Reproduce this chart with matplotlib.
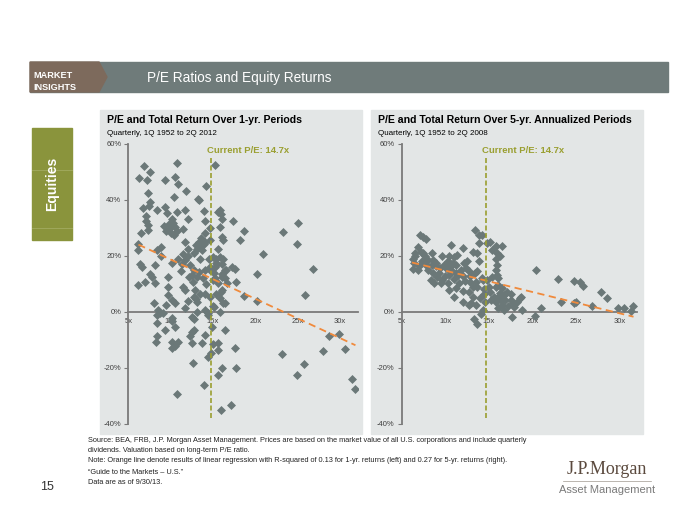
import matplotlib
matplotlib.use('Agg')
import matplotlib.pyplot as plt
from matplotlib.patches import Rectangle, Polygon
from matplotlib.lines import Line2D

# --- Dados ---

# P/E vs retorno de 1 ano (painel esquerdo)
pe_1yr = [6.8, 10.7, 15.2, 6.3, 7.2, 7.6, 9.3, 10.5, 10.9, 7.3, 10.4, 11.8, 13.2, 7.6, 7.5,
          6.7, 8.4, 7.1, 7.1, 7.3, 7.3, 6.5, 9.3, 9.6, 10.7, 10.1, 10.3, 10.5, 9.9, 9.5,
          10.8, 11.5, 12.1, 11.7, 13.9, 14.0, 14.1, 15.8, 15.6, 16.0, 15.8, 16.0, 16.2, 17.4, 18.6,
          18.2, 6.2, 6.2, 11.7, 12.1, 13.5, 13.7, 13.1, 13.9, 8.4, 8.9, 8.9, 6.4, 6.6, 8.2,
          7.6, 7.8, 6.2, 7.0, 8.2, 9.7, 9.7, 10.9, 11.3, 11.7, 12.3, 12.7, 12.5, 13.1, 13.3,
          14.1, 14.5, 15.0, 15.3, 15.8, 15.4, 16.0, 16.4, 17.2, 17.6, 16.0, 16.4, 15.6, 15.0, 14.6,
          11.7, 11.5, 12.9, 13.5, 12.7, 13.1, 14.6, 14.1, 15.3, 16.0, 15.8, 16.2, 9.7, 10.1, 9.5,
          10.5, 8.0, 8.5, 8.7, 11.7, 13.1, 14.1,
          14.2, 13.3, 15.9, 25.0, 23.3, 24.9, 20.9, 26.8, 20.2, 15.6, 16.5, 17.7, 18.7, 20.2, 25.9,
          14.6, 14.6, 13.5, 14.6, 15.2, 16.0, 16.6, 15.9, 16.4, 15.0, 14.4,
          8.4, 9.1, 10.1, 10.1, 10.5, 8.4, 9.3, 8.4, 8.3, 10.1, 10.5, 10.1, 10.9, 12.5, 12.5,
          12.7, 12.3, 12.5, 12.7, 13.7, 14.1, 14.4, 15.1, 15.8, 14.9, 15.0, 15.6, 14.8, 14.4, 15.6,
          16.4, 17.6, 12.6, 16.0, 15.6, 17.7, 13.9, 10.8, 17.1, 15.9, 23.1, 24.9, 25.7, 28.0, 28.7,
          29.9, 30.6, 31.4, 31.8,
          9.8, 10.0, 10.4, 9.2, 13.3, 13.6, 14.0, 13.0, 12.8, 12.0, 11.5, 15.5, 15.2, 16.2, 15.1,
          12.2, 13.8, 11.2, 10.2, 12.6, 14.2, 13.0, 12.0]
ret_1yr = [52.1, 53.3, 52.4, 47.7, 47.0, 50.1, 47.0, 48.2, 45.8, 42.6, 41.1, 43.2, 40.3, 39.1, 37.9,
           37.1, 36.4, 34.4, 32.6, 31.0, 29.3, 28.1, 37.6, 35.2, 35.5, 33.2, 31.6, 30.4, 30.0, 29.0,
           29.0, 29.6, 33.2, 36.4, 35.9, 32.3, 28.1, 36.4, 35.5, 33.0, 30.4, 26.7, 25.5, 32.6, 29.0,
           25.5, 24.3, 21.9, 24.9, 22.5, 23.3, 21.9, 22.5, 24.3, 21.9, 23.1, 20.1, 17.2, 16.0, 16.6,
           13.6, 12.4, 9.5, 10.7, 10.1, 12.4, 8.9, 19.0, 17.2, 18.4, 16.6, 14.8, 13.0, 12.4, 14.2,
           14.8, 19.0, 19.6, 19.0, 19.6, 17.4, 17.2, 14.8, 16.0, 15.4, 13.6, 11.9, 10.1, 11.3, 14.8,
           7.7, 8.9, 7.7, 6.5, 5.3, 3.6, 5.3, 6.5, 6.5, 7.7, 4.8, 3.0, 5.9, 4.2, 2.4,
           3.0, 3.0, 0.6, -0.6, 1.2, 0.0, 0.6,
           45.0, 39.9, 35.0, 31.6, 28.4, 24.1, 20.5, 15.4, 13.4, 22.5, 14.8, 10.7, 5.6, 3.9, 5.9,
           30.0, 25.5, 19.0, 16.0, 11.9, 12.4, 10.1, 7.1, 3.0, 2.1, -0.6,
           -1.2, -0.6, -2.4, -3.2, -5.3, -4.1, -6.7, -8.6, -11.0, -11.0, -12.4, -13.0, -11.0, -11.2, -7.4,
           -6.5, -8.6, -1.8, -2.7, -11.2, -8.3, -1.2, 1.8, 0.0, -5.6, -11.5, -11.2, -14.6, -16.3, -13.8,
           -6.7, -13.0, -18.3, -20.3, -22.5, -20.1, -26.4, -29.6, -33.3, -35.3, -15.0, -22.5, -18.6, -14.2, -8.6,
           -8.0, -13.4, -23.9, -27.8,
           31.5, 28.0, 27.5, 30.8, 25.0, 26.5, 24.8, 24.0, 21.0, 20.0, 20.5, 17.0, 16.0, 18.8, 14.0,
           12.5, 12.0, 14.5, 17.5, 10.5, 10.0, 4.5, 4.0]

# P/E vs retorno anualizado de 5 anos (painel direito)
pe_5yr = [7.1, 7.5, 7.8, 6.9, 6.5, 6.6, 6.3, 6.4, 6.3, 6.9, 7.3, 7.5, 7.7, 8.0, 7.8,
          8.0, 8.5, 8.6, 8.5, 8.9, 8.6, 9.3, 8.4, 8.7, 9.7, 10.3, 10.5, 10.7, 11.0, 11.4,
          9.9, 10.1, 10.4, 10.7, 10.9, 10.8, 10.5, 10.0, 9.7, 9.5, 10.3, 11.0, 11.5, 11.8, 12.0,
          12.2, 12.4, 12.5, 12.7, 12.9, 12.0, 11.6, 11.2, 10.5, 11.0, 12.0, 12.7, 13.2, 13.4, 12.9,
          13.5, 13.7, 13.2, 12.7, 13.5, 13.4, 13.9, 14.2, 13.9, 13.2, 13.7, 13.9, 13.7, 14.2, 14.4,
          14.8, 15.2, 15.4, 15.8, 16.5, 15.9, 16.3, 15.8, 15.9, 15.8, 15.9, 15.4, 14.8, 15.0, 15.2,
          15.8, 16.1, 16.1, 16.5, 15.6, 15.9, 15.8, 16.2, 16.4, 16.7, 16.5, 16.1, 16.9, 17.1, 17.5,
          17.6, 17.9, 18.2, 18.6, 18.8, 18.7, 17.8, 17.7, 16.7, 14.3, 14.1, 13.3, 13.7, 14.5, 14.6,
          14.5, 20.4, 20.3, 21.0, 22.9, 23.3, 24.8, 25.5, 25.8, 24.8, 25.0, 26.8, 27.9, 28.6, 29.8,
          30.5, 31.3, 31.5,
          9.0, 9.4, 10.2, 10.6, 11.2, 9.1, 11.3, 12.3, 7.0, 7.2, 12.1, 13.0, 14.0, 17.2, 16.3, 15.3]
ret_5yr = [27.5, 26.7, 26.0, 23.3, 21.0, 20.0, 18.8, 17.4, 15.2, 15.0, 18.0, 21.0, 19.8, 18.6, 16.8,
           15.0, 21.0, 18.6, 16.8, 16.2, 13.8, 13.8, 11.4, 10.2, 19.8, 18.0, 19.8, 24.0, 19.5, 20.4,
           16.8, 15.6, 15.0, 16.2, 17.6, 14.4, 13.2, 12.6, 11.4, 10.2, 10.4, 11.6, 13.2, 15.0, 22.7,
           17.4, 15.6, 18.0, 14.4, 12.6, 12.6, 10.2, 8.4, 7.8, 5.4, 3.6, 7.2, 9.0, 13.8, 10.8,
           10.8, 9.0, 5.4, 2.4, 2.4, 29.3, 27.5, 27.5, 24.5, 21.5, 20.9, 18.0, 14.4, 12.0, 11.2,
           24.5, 25.1, 22.1, 23.6, 23.6, 21.0, 19.8, 18.8, 16.8, 15.0, 13.2, 12.3, 11.4, 9.0, 7.2,
           9.0, 9.6, 12.0, 8.4, 5.4, 4.8, 3.6, 5.4, 4.2, 6.0, 2.4, 1.2, 4.2, 7.2, 6.4,
           4.2, 1.8, 3.6, 4.8, 0.6, 5.1, 3.0, -2.0, 0.6, 0.6, -0.8, -2.7, -4.4, 6.3, 3.6,
           8.0, 15.0, -1.5, 1.2, 11.6, 3.6, 11.0, 10.8, 9.2, 3.0, 3.6, 2.1, 7.2, 4.8, 1.2,
           1.5, 0.4, 2.1,
           17.5, 15.8, 16.5, 17.0, 16.8, 12.5, 14.0, 11.0, 16.5, 21.5, 7.5, 3.0, 5.0, 2.0, 6.8, 4.2]

# Retas de regressão (extremos)
trend_1yr_x = [6.2, 31.8]
trend_1yr_y = [24.0, -12.0]
trend_5yr_x = [6.2, 31.6]
trend_5yr_y = [17.6, -1.8]

CURRENT_PE = 14.7
x_ticks = [5, 10, 15, 20, 25, 30]
y_ticks = [-40, -20, 0, 20, 40, 60]

titles = ['P/E and Total Return Over 1-yr. Periods', 'P/E and Total Return Over 5-yr. Annualized Periods']
subtitles = ['Quarterly, 1Q 1952 to 2Q 2012', 'Quarterly, 1Q 1952 to 2Q 2008']

notes = [
    'Source: BEA, FRB, J.P. Morgan Asset Management. Prices are based on the market value of all U.S. corporations and include quarterly',
    'dividends. Valuation based on long-term P/E ratio.',
    'Note: Orange line denote results of linear regression with R-squared of 0.13 for 1-yr. returns (left) and 0.27 for 5-yr. returns (right).',
    '\u201cGuide to the Markets \u2013 U.S.\u201d',
    'Data are as of 9/30/13.',
]

# --- Estilo ---
W, H = 700, 525
PANEL_BG = '#e3e6e6'
DOT = '#6b7878'
ORANGE = '#f08a3c'
OLIVE = '#9a9f30'
plt.rcParams['font.family'] = ['Liberation Sans', 'DejaVu Sans']


def fx(px):
    return px / W


def fy(py):
    return 1 - py / H


def fig_rect(fig, x0, y0, x1, y1, color):
    # retângulo em coordenadas de pixel (origem no topo), atrás dos eixos
    fig.patches.append(Rectangle((fx(x0), fy(y1)), fx(x1 - x0), fy(y0) - fy(y1),
                                 transform=fig.transFigure, color=color, zorder=-5))


fig = plt.figure(figsize=(7, 5.25), dpi=100)
fig.patch.set_facecolor('white')

# --- Cabeçalho ---
fig_rect(fig, 30, 62, 668, 92, '#6f7b7a')
fig.patches.append(Polygon([(fx(30), fy(62)), (fx(99), fy(62)), (fx(107), fy(77)),
                            (fx(99), fy(92)), (fx(30), fy(92))],
                           closed=True, transform=fig.transFigure, color='#7d6a5c', zorder=-4))
fig.text(fx(33), fy(76), 'MARKET', color='white', fontsize=6.6, fontweight='bold', va='center')
fig.text(fx(33), fy(87), 'INSIGHTS', color='white', fontsize=6.6, fontweight='bold', va='center')
fig.text(fx(147), fy(78), 'P/E Ratios and Equity Returns', color='white', fontsize=9.8,
         va='center')

# --- Barra lateral "Equities" ---
fig_rect(fig, 32, 128, 72, 240, '#8a943c')
for ly in [170, 228]:
    fig.add_artist(Line2D([fx(32), fx(72)], [fy(ly), fy(ly)], color='#a3ab60', lw=0.6))
fig.text(fx(52), fy(184), 'Equities', color='white', fontsize=10, fontweight='bold',
         rotation=90, ha='center', va='center')

# --- Painéis ---
panels = [
    dict(bg=(100, 362), ax_left=128.3, ax_right=358, xmax=32.1,
         x=pe_1yr, y=ret_1yr, tx=trend_1yr_x, ty=trend_1yr_y),
    dict(bg=(371, 643), ax_left=401.5, ax_right=637, xmax=32.0,
         x=pe_5yr, y=ret_5yr, tx=trend_5yr_x, ty=trend_5yr_y),
]

for i, p in enumerate(panels):
    x0, x1 = p['bg']
    fig_rect(fig, x0, 110, x1, 434, PANEL_BG)
    fig.text(fx(x0 + 7), fy(120), titles[i], fontsize=7.55, fontweight='bold', va='center')
    fig.text(fx(x0 + 7), fy(133), subtitles[i], fontsize=5.8, va='center')

    ax = fig.add_axes([fx(p['ax_left']), fy(423.5), fx(p['ax_right'] - p['ax_left']),
                       fy(144) - fy(423.5)])
    ax.patch.set_alpha(0)
    ax.set_xlim(5, p['xmax'])
    ax.set_ylim(-40, 60)

    ax.scatter(p['x'], p['y'], marker='D', s=21, color=DOT, linewidths=0, zorder=3)
    ax.plot(p['tx'], p['ty'], color=ORANGE, lw=1.3, dashes=(4, 2.5), zorder=4)
    ax.plot([CURRENT_PE, CURRENT_PE], [-38, 55], color=OLIVE, lw=1.2, dashes=(3, 1.5), zorder=5)
    ax.text(CURRENT_PE - 0.45, 57.5, 'Current P/E: 14.7x', color=OLIVE, fontsize=6.8,
            fontweight='bold', ha='left', va='center')

    for s in ['top', 'right']:
        ax.spines[s].set_visible(False)
    ax.spines['left'].set_color('#7a7a7a')
    ax.spines['left'].set_linewidth(1.3)
    ax.spines['bottom'].set_position(('data', 0))
    ax.spines['bottom'].set_color('#7a7a7a')
    ax.spines['bottom'].set_linewidth(1.3)

    ax.set_yticks(y_ticks)
    ax.set_yticklabels([f'{v}%' for v in y_ticks])
    ax.set_xticks(x_ticks)
    ax.set_xticklabels([f'{v}x' for v in x_ticks])
    ax.tick_params(axis='y', length=3, width=0.8, color='#7a7a7a', labelsize=5.5,
                   labelcolor='#404040', pad=2)
    ax.tick_params(axis='x', length=0, labelsize=5.5, labelcolor='#404040', pad=4.5)

# --- Notas de rodapé ---
for txt, ny in zip(notes, [440, 450.5, 461, 472, 483]):
    fig.text(fx(88), fy(ny), txt, fontsize=5.3, color='#222222', va='center')

fig.text(fx(40), fy(487), '15', fontsize=9, color='#333333', va='center')

# --- Logo J.P.Morgan ---
fig.text(fx(607), fy(470), 'J.P.Morgan', fontsize=13, color='#5b4a3e',
         family=['Liberation Serif', 'DejaVu Serif'], ha='center', va='center')
fig.add_artist(Line2D([fx(563), fx(651)], [fy(480.5), fy(480.5)], color='#a09890', lw=0.5))
fig.text(fx(607), fy(490), 'Asset Management', fontsize=8, color='#7a7a7a',
         ha='center', va='center')

fig.savefig('out.png', dpi=100)
